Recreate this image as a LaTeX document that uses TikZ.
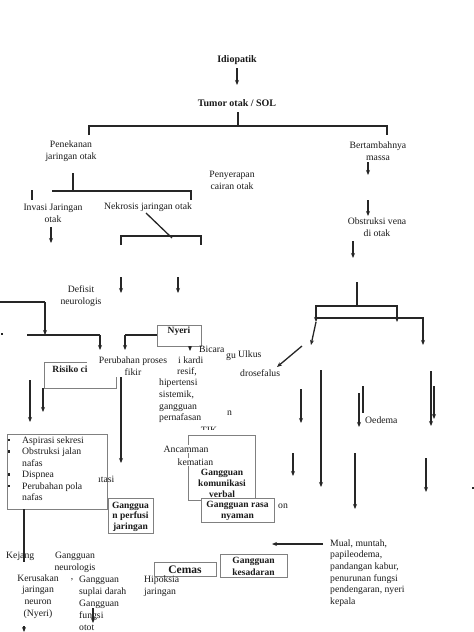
\documentclass[tikz,border=0pt]{standalone}
\usepackage{fontspec}
\setmainfont{Liberation Serif}
\usetikzlibrary{arrows.meta}
\newcommand{\myArr}[3]{\coordinate (#1a) at (#2); \coordinate (#1b) at (#3); \draw[arr] (#1a) -- (#1b);}
\newcommand{\myLn}[3]{\coordinate (#1a) at (#2); \coordinate (#1b) at (#3); \draw[ln] (#1a) -- (#1b);}
\begin{document}
\begin{tikzpicture}[x=1pt,y=-1pt,
  txt/.style={font=\fontsize{9.7}{11.7}\selectfont, inner sep=0pt, align=center, text=black!90},
  txl/.style={txt, align=left},
  bld/.style={txt, font=\fontsize{9.5}{11}\selectfont\bfseries},
  ln/.style={line width=1.3pt, draw=black!85},
  arr/.style={ln, -{Stealth[length=5pt,width=4pt]}},
  gbox/.style={draw=black!50, line width=0.9pt, inner sep=0pt},
  bul/.style={fill=black!85, minimum size=2.4pt, inner sep=0pt},
]
\useasboundingbox (0,0) rectangle (474,632);

% ---------- top ----------
\node[bld, font=\fontsize{10}{12}\selectfont\bfseries] (idio) at (237,60) {Idiopatik};
\node[bld, font=\fontsize{10}{12}\selectfont\bfseries] (tumor) at (237,103) {Tumor otak / SOL};
\myArr{a1}{237,68}{237,85}
\myLn{l1}{238,112}{238,126}
\coordinate (br1) at (89,135); \coordinate (br2) at (89,126);
\coordinate (br3) at (387,126); \coordinate (br4) at (387,135);
\draw[ln] (br1) -- (br2) -- (br3) -- (br4);

\node[txt] (pen) at (71,151) {Penekanan\\jaringan otak};
\node[txt] (bert) at (378,151) {Bertambahnya\\massa};
\node[txt] (peny) at (232,180.5) {Penyerapan\\cairan otak};
\myArr{a2}{368,162}{368,175}

% ---------- left upper ----------
\myLn{l2}{73,173}{73,191}
\coordinate (b1) at (52,191); \coordinate (b2) at (191,191); \coordinate (b3) at (191,200);
\draw[ln] (b1) -- (b2) -- (b3);
\myLn{l3}{32,190}{32,200}
\node[txt] (invasi) at (53,213) {Invasi Jaringan\\otak};
\node[txt] (nekr) at (148,207) {Nekrosis jaringan otak};
\myArr{a3}{51,227}{51,243}
\myLn{l4}{146,213}{172,238}
\coordinate (n1) at (121,245); \coordinate (n2) at (121,236);
\coordinate (n3) at (201,236); \coordinate (n4) at (201,245);
\draw[ln] (n1) -- (n2) -- (n3) -- (n4);
\myArr{a4}{121,277}{121,293}
\myArr{a5}{178,277}{178,293}
\node[txt] (defisit) at (81,296) {Defisit\\neurologis};

\myLn{l5}{0,302}{45,302}
\myArr{a6}{45,302}{45,335}
\node[bul, minimum size=1.8pt] (dot1) at (2,334) {};
\myLn{l6}{27,335}{100,335}
\myArr{a7}{100,335}{100,350}

% Nyeri
\node[gbox, minimum width=44pt, minimum height=21pt, anchor=north west] (nyeribox) at (157,325) {};
\node[bld] (nyeri) at (179,331) {Nyeri};
\coordinate (ny1) at (157,335); \coordinate (ny2) at (125,335); \coordinate (ny3) at (125,350);
\draw[ln] (ny1) -- (ny2);
\draw[arr] (ny2) -- (ny3);
\myArr{a8}{190,346}{190,351}

% Risiko box
\coordinate (r1) at (87,362); \coordinate (r2) at (44,362); \coordinate (r3) at (44,388);
\coordinate (r4) at (116,388); \coordinate (r5) at (116,377);
\draw[draw=black!50, line width=0.9pt] (r1) -- (r2) -- (r3) -- (r4) -- (r5);
\node[bld] (risiko) at (70,369) {Risiko ci};
\node[txt] (perub) at (133,366) {Perubahan proses\\fikir};

\node[txt, anchor=west] (bicara) at (199,349) {Bicara};
\node[txt, anchor=west] (ikardi) at (178,360) {i kardi};
\node[txt, anchor=west] (resif) at (177,372) {resif,};
\node[txl, anchor=west] (hiper) at (159,401) {hipertensi\\sistemik,\\gangguan\\pernafasan};
\node[txt, anchor=west] (gu) at (226,357) {gu};
\node[txt, anchor=west] (ulkus) at (238,354) {Ulkus};
\node[txt, anchor=west] (dros) at (240,373) {drosefalus};
\node[txt, anchor=west] (nn) at (227,413) {n};
\begin{scope}
\clip (195,421) rectangle (222,429);
\node[txt] (tik) at (209,430) {TIK};
\end{scope}

% ---------- right upper ----------
\myArr{a9}{368,200}{368,216}
\node[txt] (obst) at (377,227.5) {Obstruksi vena\\di otak};
\myArr{a10}{353,241}{353,258}
\myLn{l7}{357,282}{357,306}
\coordinate (c1) at (316,322); \coordinate (c2) at (316,306);
\coordinate (c3) at (397,306); \coordinate (c4) at (397,322);
\draw[arr, {Stealth[length=5pt,width=4pt]}-{Stealth[length=5pt,width=4pt]}] (c1) -- (c2) -- (c3) -- (c4);
\coordinate (d1) at (317,318); \coordinate (d2) at (423,318); \coordinate (d3) at (423,345);
\draw[arr] (d1) -- (d2) -- (d3);
\myArr{a11}{316,322}{311,345}
\myArr{a12}{302,346}{277,367}

\myArr{a13}{321,370}{321,487}
\myArr{a14}{431,371}{431,426}
\myArr{a15}{434,386}{434,419}
\myArr{a16}{301,389}{301,423}
\myLn{l8}{363,386}{363,413}
\myArr{a17}{359,393}{359,427}
\node[txt, anchor=west] (oedema) at (365,420) {Oedema};
\myArr{a18}{293,453}{293,476}
\myArr{a19}{355,453}{355,509}
\myArr{a20}{426,458}{426,492}
\node[bul, minimum size=1.8pt] (dot2) at (473,488) {};

% ---------- middle ----------
\myArr{a21}{30,380}{30,422}
\myArr{a22}{43,388}{43,412}
\myArr{a23}{121,377}{121,463}

\node[gbox, minimum width=100pt, minimum height=75pt, anchor=north west] (bulbox) at (7,434) {};
\node[txl, anchor=west, font=\fontsize{9.7}{11.5}\selectfont] (bultxt) at (22,468.5) {Aspirasi sekresi\\Obstruksi jalan\\nafas\\Dispnea\\Perubahan pola\\nafas};
\node[bul] (bu1) at (9,440) {};
\node[bul] (bu2) at (9,451.5) {};
\node[bul] (bu3) at (9,474.5) {};
\node[bul] (bu4) at (9,486) {};
\node[txt, anchor=west] (itasi) at (98,479) {ıtasi};

\node[gbox, minimum width=45pt, minimum height=35pt, anchor=north west] (perfbox) at (108,498) {};
\node[bld, font=\fontsize{9.5}{10.5}\selectfont\bfseries] (perf) at (130.5,516.5) {Ganggua\\n perfusi\\jaringan};

\node[gbox, minimum width=67pt, minimum height=65pt, anchor=north west] (ancbox) at (188,435) {};
\node[txt, anchor=west, fill=white, inner sep=0.5pt] (anc) at (163,449) {Ancamman};
\node[txt, anchor=west, fill=white, inner sep=0.5pt] (kem) at (177,462) {kematian};
\node[bld] (komun) at (222,483) {Gangguan\\komunikasi\\verbal};
\node[gbox, fill=white, minimum width=73pt, minimum height=24pt, anchor=north west] (rasabox) at (201,498) {};
\node[bld] (rasa) at (237.5,511) {Gangguan rasa\\nyaman};
\node[txt, anchor=west] (on) at (278,506) {on};

% ---------- bottom ----------
\myArr{a24}{323,544}{272,544}
\node[txl, anchor=west, font=\fontsize{9.7}{11.6}\selectfont] (mual) at (330,573) {Mual, muntah,\\papileodema,\\pandangan kabur,\\penurunan fungsi\\pendengaran, nyeri\\kepala};
\node[gbox, minimum width=67pt, minimum height=23pt, anchor=north west] (kesbox) at (220,554) {};
\node[bld, font=\fontsize{9.5}{12}\selectfont\bfseries] (kes) at (253.5,566) {Gangguan\\kesadaran};
\node[gbox, minimum width=62pt, minimum height=14pt, anchor=north west] (cemasbox) at (154,562) {};
\node[bld, font=\fontsize{11.5}{13}\selectfont\bfseries] (cemas) at (185,569.5) {Cemas};
\node[txl, anchor=west] (hipok) at (144,586.5) {Hipoksia\\jaringan};

\myLn{l9}{24,509}{24,562}
\node[txt, anchor=west] (kejang) at (6,556) {Kejang};
\node[txt] (gneuro) at (75,562) {Gangguan\\neurologis};
\node[txt] (kerus) at (38,596.5) {Kerusakan\\jaringan\\neuron\\(Nyeri)};
\node[txt] (comma) at (72,580) {,};
\node[txl, anchor=west, font=\fontsize{9.7}{12}\selectfont] (gsup) at (79,603) {Gangguan\\suplai darah\\Gangguan\\fungsi\\otot};
\myArr{a25}{93,608}{93,623}
\myArr{a26}{24,626}{24,632}
\end{tikzpicture}
\end{document}
